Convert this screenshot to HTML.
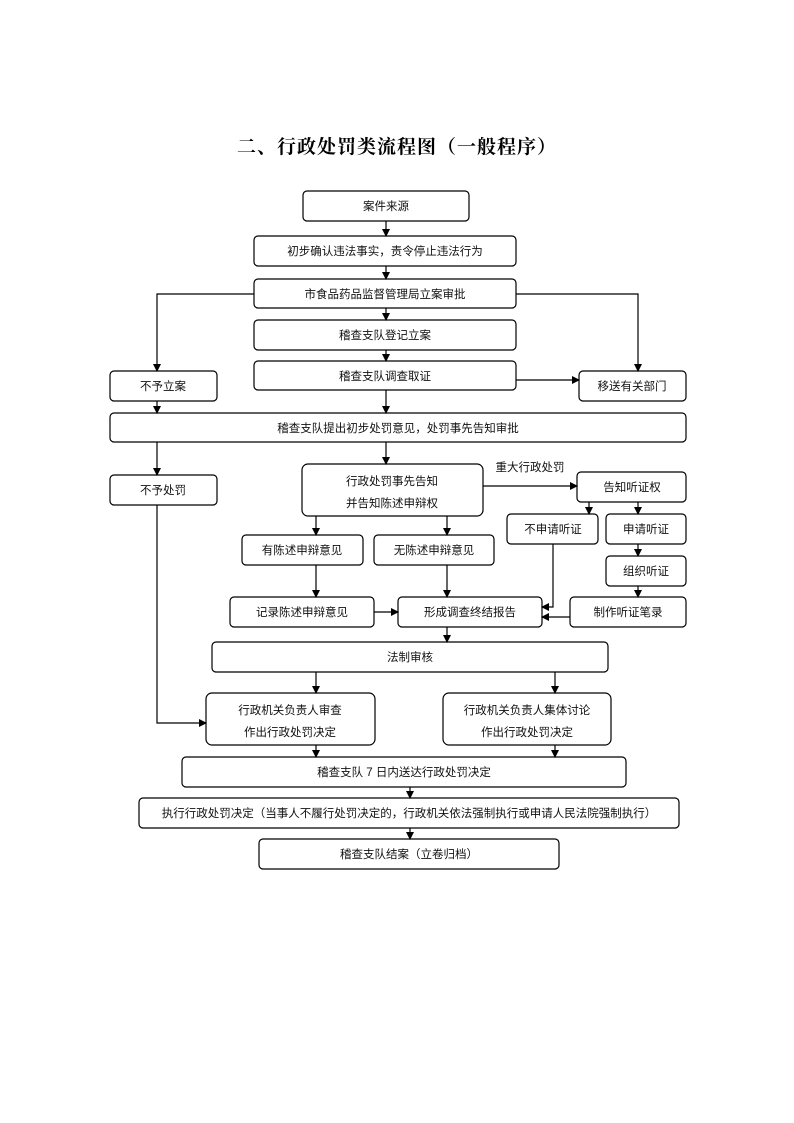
<!DOCTYPE html>
<html><head><meta charset="utf-8">
<style>
html,body{margin:0;padding:0;background:#fff;}
svg{display:block;}
text{font-family:"Liberation Sans","Noto Sans CJK SC",sans-serif;font-size:11.5px;fill:#111;}
.t{font-family:"Liberation Serif","Noto Serif CJK SC",serif;font-size:19px;font-weight:bold;letter-spacing:1px;fill:#000;}
rect{fill:#fff;stroke:#000;stroke-width:1.2;}
line,polyline{stroke:#000;stroke-width:1.2;fill:none;}
</style></head><body>
<svg width="794" height="1123" viewBox="0 0 794 1123" xmlns="http://www.w3.org/2000/svg">
<defs><marker id="a" markerWidth="8" markerHeight="8" refX="7" refY="4" orient="auto" markerUnits="userSpaceOnUse"><path d="M0,0 L8,4 L0,8 Z" fill="#000"/></marker></defs>
<text class="t" x="397" y="153" text-anchor="middle">二、行政处罚类流程图（一般程序）</text>

<g>
<rect x="303" y="191" width="166" height="30" rx="4"/>
<rect x="254" y="236" width="262" height="30" rx="4"/>
<rect x="254" y="279" width="262" height="29" rx="4"/>
<rect x="254" y="320" width="262" height="30" rx="4"/>
<rect x="254" y="361" width="262" height="29" rx="4"/>
<rect x="110" y="371" width="107" height="30" rx="4"/>
<rect x="579" y="371" width="107" height="30" rx="4"/>
<rect x="110" y="413" width="576" height="29" rx="4"/>
<rect x="110" y="475" width="107" height="30" rx="4"/>
<rect x="302" y="464" width="181" height="52" rx="6"/>
<rect x="577" y="472" width="109" height="30" rx="4"/>
<rect x="507" y="514" width="91" height="30" rx="4"/>
<rect x="606" y="514" width="80" height="30" rx="4"/>
<rect x="606" y="556" width="80" height="30" rx="4"/>
<rect x="242" y="535" width="121" height="30" rx="4"/>
<rect x="374" y="535" width="120" height="30" rx="4"/>
<rect x="230" y="597" width="144" height="30" rx="4"/>
<rect x="398" y="597" width="144" height="30" rx="4"/>
<rect x="570" y="597" width="116" height="30" rx="4"/>
<rect x="212" y="642" width="396" height="30" rx="4"/>
<rect x="206" y="693" width="169" height="52" rx="6"/>
<rect x="443" y="693" width="168" height="52" rx="6"/>
<rect x="182" y="757" width="444" height="30" rx="4"/>
<rect x="139" y="798" width="540" height="30" rx="4"/>
<rect x="259" y="839" width="300" height="30" rx="4"/>
</g>

<g text-anchor="middle">
<text x="386" y="210">案件来源</text>
<text x="385" y="255">初步确认违法事实，责令停止违法行为</text>
<text x="385" y="298">市食品药品监督管理局立案审批</text>
<text x="385" y="339">稽查支队登记立案</text>
<text x="385" y="380">稽查支队调查取证</text>
<text x="163" y="390">不予立案</text>
<text x="632" y="390">移送有关部门</text>
<text x="398" y="432">稽查支队提出初步处罚意见，处罚事先告知审批</text>
<text x="163" y="494">不予处罚</text>
<text x="392" y="485">行政处罚事先告知</text>
<text x="392" y="507">并告知陈述申辩权</text>
<text x="530" y="471">重大行政处罚</text>
<text x="632" y="491">告知听证权</text>
<text x="553" y="533">不申请听证</text>
<text x="646" y="533">申请听证</text>
<text x="646" y="575">组织听证</text>
<text x="302" y="554">有陈述申辩意见</text>
<text x="434" y="554">无陈述申辩意见</text>
<text x="302" y="616">记录陈述申辩意见</text>
<text x="470" y="616">形成调查终结报告</text>
<text x="628" y="616">制作听证笔录</text>
<text x="410" y="661">法制审核</text>
<text x="290" y="714">行政机关负责人审查</text>
<text x="290" y="736">作出行政处罚决定</text>
<text x="527" y="714">行政机关负责人集体讨论</text>
<text x="527" y="736">作出行政处罚决定</text>
<text x="404" y="776">稽查支队 7 日内送达行政处罚决定</text>
<text x="409" y="817">执行行政处罚决定（当事人不履行处罚决定的，行政机关依法强制执行或申请人民法院强制执行）</text>
<text x="409" y="858">稽查支队结案（立卷归档）</text>
</g>

<g marker-end="url(#a)">
<line x1="386" y1="221" x2="386" y2="236"/>
<line x1="386" y1="266" x2="386" y2="279"/>
<line x1="386" y1="308" x2="386" y2="320"/>
<line x1="386" y1="350" x2="386" y2="361"/>
<polyline points="254,294 157,294 157,371"/>
<polyline points="516,294 638,294 638,371"/>
<line x1="516" y1="380" x2="579" y2="380"/>
<line x1="157" y1="401" x2="157" y2="413"/>
<line x1="386" y1="390" x2="386" y2="413"/>
<line x1="157" y1="442" x2="157" y2="475"/>
<line x1="386" y1="442" x2="386" y2="464"/>
<line x1="483" y1="486" x2="577" y2="486"/>
<line x1="589" y1="502" x2="589" y2="514"/>
<line x1="638" y1="502" x2="638" y2="514"/>
<line x1="638" y1="544" x2="638" y2="556"/>
<line x1="638" y1="586" x2="638" y2="597"/>
<line x1="316" y1="516" x2="316" y2="535"/>
<line x1="447" y1="516" x2="447" y2="535"/>
<line x1="316" y1="565" x2="316" y2="597"/>
<line x1="447" y1="565" x2="447" y2="597"/>
<line x1="374" y1="612" x2="398" y2="612"/>
<polyline points="553,544 553,607 542,607"/>
<line x1="570" y1="617" x2="542" y2="617"/>
<line x1="447" y1="627" x2="447" y2="642"/>
<line x1="316" y1="672" x2="316" y2="693"/>
<line x1="555" y1="672" x2="555" y2="693"/>
<polyline points="157,505 157,723 206,723"/>
<line x1="316" y1="745" x2="316" y2="757"/>
<line x1="555" y1="745" x2="555" y2="757"/>
<line x1="410" y1="787" x2="410" y2="798"/>
<line x1="410" y1="828" x2="410" y2="839"/>
</g>
</svg>
</body></html>
